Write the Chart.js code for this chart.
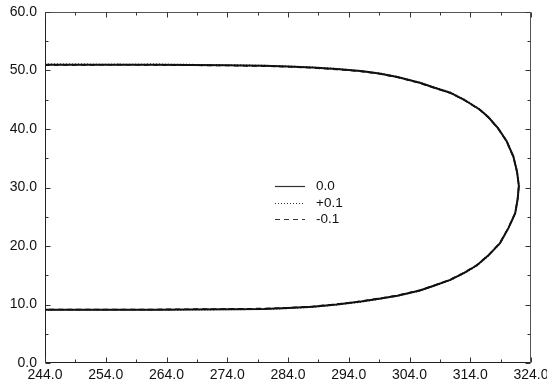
<!DOCTYPE html>
<html>
<head>
<meta charset="utf-8">
<script src="https://cdn.jsdelivr.net/npm/chart.js@4/dist/chart.umd.min.js"></script>
<style>
  html, body { margin: 0; padding: 0; background: #fff; }
  #wrap { width: 547px; height: 385px; position: relative; }
</style>
</head>
<body>
<div id="wrap"><canvas id="c" width="547" height="385"></canvas></div>
<script>
// ---- data ----
const seriesNames = ["0.0", "+0.1", "-0.1"];
const xTickValues = [244, 254, 264, 274, 284, 294, 304, 314, 324];
const yTickValues = [0, 10, 20, 30, 40, 50, 60];

const curveX = [244, 250, 256, 262, 268, 274, 280, 284, 288, 292, 296, 299, 302, 305.7, 308, 310.7, 313, 315.6, 317, 318.6, 320, 321.1, 321.7, 322,
                321.8, 321.4, 320.3, 318.9, 317, 315.1, 313, 310.7, 308, 305.7, 302, 299, 296, 292, 288, 284, 280, 274, 268, 262, 256, 250, 244];
const curveY00 = [51.0, 51.0, 51.0, 51.0, 50.95, 50.9, 50.8, 50.7, 50.5, 50.25, 49.9, 49.5, 48.9, 47.9, 47.1, 46.2, 45.0, 43.3, 42.0, 40.1, 37.9, 35.3, 32.7, 30.3,
                  28.0, 25.6, 23.1, 20.5, 18.4, 16.7, 15.4, 14.2, 13.2, 12.4, 11.5, 11.0, 10.5, 10.0, 9.6, 9.4, 9.25, 9.2, 9.15, 9.1, 9.1, 9.1, 9.1];
const curveYP01 = [51.05, 51.05, 51.0, 51.05, 51.0, 50.9, 50.85, 50.7, 50.55, 50.3, 49.9, 49.55, 48.95, 47.95, 47.15, 46.25, 45.05, 43.35, 42.05, 40.15, 37.95, 35.35, 32.75, 30.3,
                   27.95, 25.55, 23.05, 20.45, 18.35, 16.65, 15.35, 14.15, 13.15, 12.35, 11.45, 10.95, 10.45, 9.95, 9.55, 9.35, 9.2, 9.15, 9.1, 9.05, 9.05, 9.05, 9.05];
const curveYM01 = [50.95, 50.95, 51.0, 50.95, 50.9, 50.85, 50.75, 50.65, 50.45, 50.2, 49.85, 49.45, 48.85, 47.85, 47.05, 46.15, 44.95, 43.25, 41.95, 40.05, 37.85, 35.25, 32.65, 30.3,
                   28.05, 25.65, 23.15, 20.55, 18.45, 16.75, 15.45, 14.25, 13.25, 12.45, 11.55, 11.05, 10.55, 10.05, 9.65, 9.45, 9.3, 9.25, 9.2, 9.15, 9.15, 9.15, 9.15];

const toPts = (xs, ys) => xs.map((x, i) => ({ x: x, y: ys[i] }));

const FONT = "'Liberation Sans', Arial, Helvetica, sans-serif";

// frame + inward ticks + legend
const decor = {
  id: 'decor',
  afterDraw(chart) {
    const { ctx, chartArea: a, scales: { x, y } } = chart;
    ctx.save();
    ctx.lineWidth = 1;
    const L = Math.round(a.left) + 0.5, R = Math.round(a.right) - 0.5;
    const T = Math.round(a.top) + 0.5, B = Math.round(a.bottom) - 0.5;
    ctx.strokeStyle = '#555';
    ctx.beginPath();
    ctx.moveTo(L, T); ctx.lineTo(R, T); ctx.lineTo(R, B);
    ctx.stroke();
    ctx.strokeStyle = '#222';
    ctx.beginPath();
    ctx.moveTo(L, T); ctx.lineTo(L, B); ctx.lineTo(R, B);
    ctx.stroke();
    ctx.strokeStyle = '#333';
    ctx.beginPath();
    for (let v = 244; v <= 324; v += 5) {
      const len = (v - 244) % 10 === 0 ? 5 : 3;
      const px = Math.round(x.getPixelForValue(v)) + 0.5;
      ctx.moveTo(px, B); ctx.lineTo(px, B - len);
      ctx.moveTo(px, T); ctx.lineTo(px, T + len);
    }
    for (let v = 0; v <= 60; v += 5) {
      const len = v % 10 === 0 ? 5 : 3;
      const py = Math.round(y.getPixelForValue(v)) + 0.5;
      ctx.moveTo(L, py); ctx.lineTo(L + len, py);
      ctx.moveTo(R, py); ctx.lineTo(R - len, py);
    }
    ctx.stroke();
    // legend
    const rows = [186, 203, 219];
    ctx.font = '13.5px ' + FONT;
    ctx.textBaseline = 'middle';
    ctx.fillStyle = '#111';
    chart.data.datasets.forEach((ds, i) => {
      const yy = rows[i] + 0.5;
      ctx.strokeStyle = '#333';
      ctx.lineWidth = 1.2;
      ctx.setLineDash(ds.borderDash || []);
      ctx.beginPath();
      ctx.moveTo(275, yy); ctx.lineTo(305, yy);
      ctx.stroke();
      ctx.setLineDash([]);
      ctx.fillText(ds.label, 316, rows[i]);
    });
    ctx.restore();
  }
};

new Chart(document.getElementById('c'), {
  type: 'scatter',
  data: {
    datasets: [
      { label: seriesNames[0], data: toPts(curveX, curveY00), showLine: true, borderColor: '#111', borderWidth: 2, pointRadius: 0, borderDash: [] },
      { label: seriesNames[1], data: toPts(curveX, curveYP01), showLine: true, borderColor: '#111', borderWidth: 1.6, pointRadius: 0, borderDash: [1, 2] },
      { label: seriesNames[2], data: toPts(curveX, curveYM01), showLine: true, borderColor: '#111', borderWidth: 1.6, pointRadius: 0, borderDash: [5, 4] }
    ]
  },
  options: {
    responsive: false,
    animation: false,
    devicePixelRatio: 1,
    layout: { padding: { left: 0, top: 12, right: 16, bottom: 0 } },
    plugins: { legend: { display: false }, tooltip: { enabled: false } },
    scales: {
      x: {
        type: 'linear', min: 244, max: 324,
        afterBuildTicks: s => { s.ticks = xTickValues.map(v => ({ value: v })); },
        afterFit: s => { s.height = 22; s.paddingLeft = 0; s.paddingRight = 0; },
        ticks: { callback: v => Number(v).toFixed(1), font: { family: FONT, size: 14 }, color: '#111', padding: 4, maxRotation: 0, autoSkip: false },
        grid: { display: false, drawTicks: false },
        border: { display: false }
      },
      y: {
        type: 'linear', min: 0, max: 60,
        afterBuildTicks: s => { s.ticks = yTickValues.map(v => ({ value: v })); },
        afterFit: s => { s.width = 45; s.paddingTop = 0; s.paddingBottom = 0; },
        ticks: { callback: v => Number(v).toFixed(1), font: { family: FONT, size: 14 }, color: '#111', padding: 8, autoSkip: false },
        grid: { display: false, drawTicks: false },
        border: { display: false }
      }
    }
  },
  plugins: [decor]
});
</script>
</body>
</html>
